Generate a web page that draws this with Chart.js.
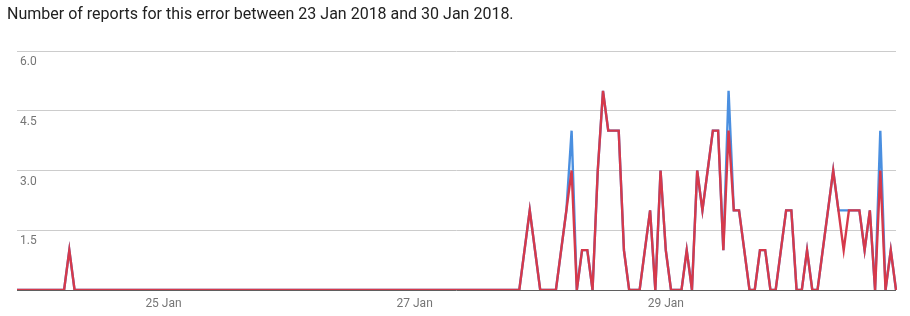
<!DOCTYPE html>
<html>
<head>
<meta charset="utf-8">
<script src="https://cdn.jsdelivr.net/npm/chart.js@4.4.1/dist/chart.umd.min.js"></script>
<style>
html, body { margin: 0; padding: 0; background: #fff; }
#wrap { position: relative; width: 910px; height: 316px; overflow: hidden; }
#chart { position: absolute; left: 0; top: 0; }
#title { position: absolute; left: 7px; top: 4px; font: 16px Roboto, sans-serif; color: #212121; white-space: nowrap; }
</style>
</head>
<body>
<div id="wrap">
	<canvas id="chart" width="910" height="316"></canvas>
	<div id="title">Number of reports for this error between 23 Jan 2018 and 30 Jan 2018.</div>
</div>
<script>
// hourly buckets, 23 Jan 20:00 -> 30 Jan 20:00
var firstDay = 23;
var firstHour = 20;
var hourCount = 169;
var hours = [];
for (var i = 0; i < hourCount; i++) {
	var h = firstHour + i;
	hours.push((firstDay + Math.floor(h / 24)) + ' Jan ' + ('0' + (h % 24)).slice(-2) + ':00');
}

var xTickLabels = ['25 Jan', '27 Jan', '29 Jan'];
var yTickValues = [0, 1.5, 3, 4.5, 6];

// blue line
var blueValues = [
	0,0,0,0,0,0,0,0,0,0,1,0,0,0,0,0,0,0,0,0,0,0,0,0,
	0,0,0,0,0,0,0,0,0,0,0,0,0,0,0,0,0,0,0,0,0,0,0,0,
	0,0,0,0,0,0,0,0,0,0,0,0,0,0,0,0,0,0,0,0,0,0,0,0,
	0,0,0,0,0,0,0,0,0,0,0,0,0,0,0,0,0,0,0,0,0,0,0,0,
	0,1,2,1,0,0,0,0,1,2,4,0,1,1,0,3,5,4,4,4,1,0,0,0,
	1,2,0,3,1,0,0,0,1,0,3,2,3,4,4,1,5,2,2,1,0,0,1,1,
	0,0,1,2,2,0,0,1,0,0,1,2,3,2,2,2,2,2,1,2,0,4,0,1,
	0
];

// red line
var redValues = [
	0,0,0,0,0,0,0,0,0,0,1,0,0,0,0,0,0,0,0,0,0,0,0,0,
	0,0,0,0,0,0,0,0,0,0,0,0,0,0,0,0,0,0,0,0,0,0,0,0,
	0,0,0,0,0,0,0,0,0,0,0,0,0,0,0,0,0,0,0,0,0,0,0,0,
	0,0,0,0,0,0,0,0,0,0,0,0,0,0,0,0,0,0,0,0,0,0,0,0,
	0,1,2,1,0,0,0,0,1,2,3,0,1,1,0,3,5,4,4,4,1,0,0,0,
	1,2,0,3,1,0,0,0,1,0,3,2,3,4,4,1,4,2,2,1,0,0,1,1,
	0,0,1,2,2,0,0,1,0,0,1,2,3,2,1,2,2,2,1,2,0,3,0,1,
	0
];

var tickFont = { family: 'Roboto', size: 12 };

new Chart('chart', {
	type: 'line',
	data: {
		labels: hours,
		datasets: [{
			label: 'Reports',
			data: blueValues,
			borderColor: '#4a8fe0',
			borderWidth: 2.4,
			pointRadius: 0,
			tension: 0,
			fill: false,
			order: 1
		}, {
			label: 'Users',
			data: redValues,
			borderColor: '#d6394b',
			borderWidth: 2.4,
			pointRadius: 0,
			tension: 0,
			fill: false,
			order: 0
		}]
	},
	options: {
		responsive: false,
		animation: false,
		devicePixelRatio: 1,
		layout: { padding: { left: 17, right: 14, top: 51, bottom: 4 } },
		plugins: {
			legend: { display: false },
			tooltip: { enabled: false }
		},
		scales: {
			x: {
				afterFit: function(axis) { axis.height = 22; },
				grid: { display: false, drawTicks: false },
				border: { display: false },
				ticks: {
					autoSkip: false,
					maxRotation: 0,
					padding: 7,
					color: '#757575',
					font: tickFont,
					callback: function(v, idx) {
						var lab = hours[idx];
						if (lab.slice(-6) === ' 00:00' && xTickLabels.indexOf(lab.slice(0, -6)) >= 0) {
							return lab.slice(0, -6);
						}
						return '';
					}
				}
			},
			y: {
				min: 0,
				max: 6,
				afterFit: function(axis) { axis.width = 0; },
				afterBuildTicks: function(axis) {
					axis.ticks = yTickValues.map(function(v) { return { value: v }; });
				},
				grid: {
					drawTicks: false,
					color: function(ctx) { return ctx.tick && ctx.tick.value === 0 ? '#5f5f5f' : '#cccccc'; }
				},
				border: { display: false },
				ticks: {
					mirror: true,
					padding: 3,
					labelOffset: 11,
					color: '#757575',
					font: tickFont,
					callback: function(v) { return v === 0 ? '' : v.toFixed(1); }
				}
			}
		}
	}
});
</script>
</body>
</html>
